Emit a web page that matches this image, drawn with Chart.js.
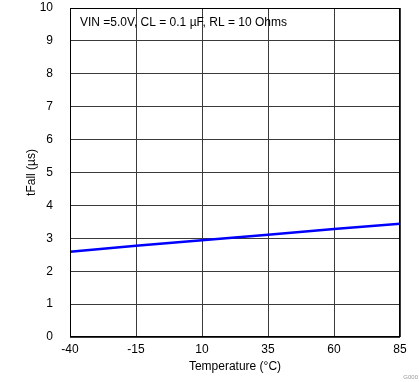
<!DOCTYPE html>
<html><head><meta charset="utf-8">
<script src="https://cdn.jsdelivr.net/npm/chart.js@4.4.1/dist/chart.umd.min.js"></script>
<style>html,body{margin:0;padding:0;background:#fff}canvas{display:block}</style>
</head><body>
<canvas id="c" width="419" height="382"></canvas>
<script>
const temperatures = [-40, -15, 10, 35, 60, 85];
const tFall = [2.59, 2.77, 2.94, 3.11, 3.28, 3.44];
const xTicks = [-40, -15, 10, 35, 60, 85];
const yTicks = [0,1,2,3,4,5,6,7,8,9,10];
const noteText = 'VIN =5.0V, CL = 0.1 µF, RL = 10 Ohms';
const FONT = 'Liberation Sans, Arial, sans-serif';

const extras = {
  id: 'extras',
  afterDraw(chart) {
    const {ctx, chartArea: a} = chart;
    ctx.save();
    ctx.strokeStyle = '#000';
    ctx.lineWidth = 1;
    ctx.strokeRect(a.left + 0.5, a.top + 0.5, a.right - a.left - 1, a.bottom - a.top - 1);
    ctx.fillStyle = '#000';
    ctx.font = '12px ' + FONT;
    ctx.textBaseline = 'middle';
    ctx.textAlign = 'left';
    ctx.fillText(noteText, a.left + 10, a.top + 15);
    ctx.font = '6px ' + FONT;
    ctx.fillStyle = '#999';
    ctx.textAlign = 'right';
    ctx.fillText('G000', 418, 377);
    ctx.restore();
  }
};

new Chart(document.getElementById('c'), {
  type: 'line',
  data: {
    datasets: [{
      data: temperatures.map((t, i) => ({x: t, y: tFall[i]})),
      borderColor: '#0000ff',
      borderWidth: 2.5,
      pointRadius: 0,
      tension: 0,
      fill: false
    }]
  },
  options: {
    responsive: false,
    animation: false,
    layout: {padding: {left: 0, top: 8, right: 19, bottom: 0}},
    plugins: {legend: {display: false}, tooltip: {enabled: false}},
    scales: {
      x: {
        type: 'linear', min: -40, max: 85,
        afterBuildTicks: s => { s.ticks = xTicks.map(v => ({value: v})); },
        afterFit: s => { s.height = 45; s.paddingLeft = 0; s.paddingRight = 0; },
        grid: {color: '#3a3a3a', lineWidth: 1, drawTicks: false},
        border: {display: false},
        ticks: {color: '#000', font: {family: FONT, size: 12}, padding: 5, maxRotation: 0},
        title: {display: true, text: 'Temperature (°C)', color: '#000', font: {family: FONT, size: 12}, padding: {top: 0, bottom: 8}}
      },
      y: {
        min: 0, max: 10,
        afterBuildTicks: s => { s.ticks = yTicks.map(v => ({value: v})); },
        afterFit: s => { s.width = 70; s.paddingTop = 0; s.paddingBottom = 0; },
        grid: {color: '#3a3a3a', lineWidth: 1, drawTicks: false},
        border: {display: false},
        ticks: {color: '#000', font: {family: FONT, size: 12}, padding: 17},
        title: {display: true, text: 'tFall (µs)', color: '#000', font: {family: FONT, size: 12}, padding: {top: 24, bottom: 0}}
      }
    }
  },
  plugins: [extras]
});
</script>
</body></html>
